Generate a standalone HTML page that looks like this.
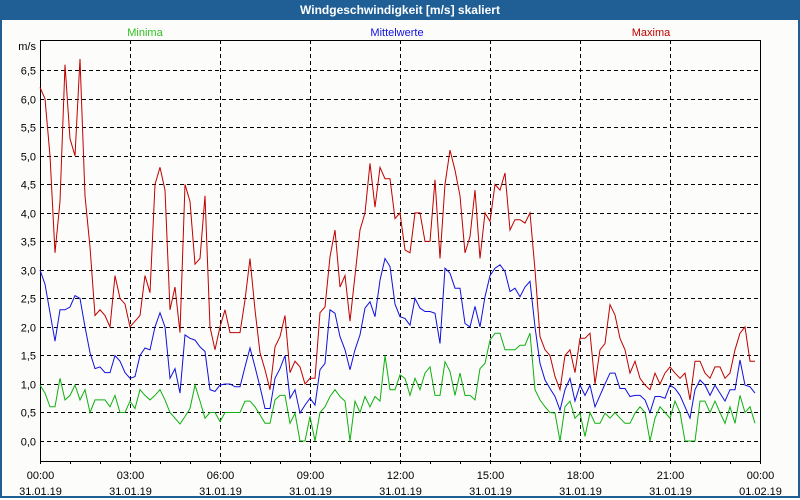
<!DOCTYPE html>
<html><head><meta charset="utf-8"><style>
body{margin:0;width:800px;height:500px;overflow:hidden;background:#fff;font-family:"Liberation Sans",sans-serif}
#win{position:absolute;left:0;top:0;width:796px;height:496px;border:2px solid #1f5f96;border-top:none;background:#fcfcfa}
#title{position:absolute;left:0;top:0;width:800px;height:20px;background:#1f5f96;color:#fff;font-size:12px;font-weight:bold;text-align:center;line-height:20px}
</style></head><body>
<div id="win"></div>
<div id="title">Windgeschwindigkeit [m/s] skaliert</div>
<svg id="chart" width="800" height="500" style="position:absolute;left:0;top:0" font-family="Liberation Sans, sans-serif" font-size="11"></svg>
<script>
const maxima=[6.2,6.0,5.0,3.3,4.2,6.6,5.3,5.0,6.7,4.3,3.4,2.2,2.3,2.2,2.0,2.9,2.5,2.4,2.0,2.1,2.2,2.9,2.6,4.5,4.8,4.4,2.3,2.7,1.9,4.5,4.2,3.1,3.2,4.3,2.0,1.6,2.0,
2.3,1.9,1.9,1.9,2.47,3.2,2.3,1.55,1.25,0.9,1.65,1.83,2.2,1.2,1.4,1.3,1.0,1.1,1.1,2.25,2.35,3.23,3.7,2.7,2.9,2.1,2.9,3.7,4.0,4.87,4.1,4.8,4.6,4.6,3.9,4.0,3.35,
3.3,4.0,4.0,3.5,3.5,4.58,3.2,4.5,5.1,4.75,4.3,3.3,3.58,4.4,3.2,4.0,3.85,4.5,4.4,4.7,3.7,3.88,3.88,3.82,4.0,3.0,1.83,1.6,1.5,1.13,0.9,1.5,1.6,1.2,1.8,1.8,
1.89,1.0,1.6,1.71,2.39,2.21,1.8,1.6,1.19,1.4,1.1,0.98,0.9,1.19,1.0,1.19,1.3,1.19,1.1,1.19,0.72,1.4,1.4,1.19,1.1,1.3,1.3,1.1,1.19,1.6,1.89,2.0,1.4,1.4];
const mittel=[3.0,2.75,2.25,1.75,2.3,2.3,2.35,2.55,2.5,2.0,1.55,1.27,1.3,1.2,1.2,1.5,1.4,1.2,1.1,1.13,1.5,1.63,1.6,2.0,2.25,2.0,1.1,1.27,0.84,1.86,1.8,1.77,1.65,1.57,0.9,0.87,0.98,
1.0,1.0,0.95,0.95,1.3,1.63,1.3,0.95,0.57,0.57,1.1,1.27,1.5,0.75,0.9,0.49,0.63,0.75,0.63,1.25,1.36,2.3,2.24,1.83,1.6,1.25,1.6,1.86,2.33,2.44,2.18,2.82,3.2,3.06,2.4,2.18,2.15,
2.03,2.5,2.33,2.27,2.27,2.24,1.71,3.03,2.94,2.68,2.68,2.06,2.0,2.36,2.0,2.53,2.9,3.03,3.09,2.97,2.62,2.68,2.53,2.7,2.8,2.0,1.36,1.07,0.92,0.78,0.54,0.9,1.1,0.7,0.98,0.8,
0.98,0.6,0.8,1.0,1.19,1.19,0.92,0.92,0.78,0.8,0.8,0.72,0.5,0.78,0.78,0.75,0.98,0.92,0.8,0.6,0.4,0.9,1.07,0.98,0.8,0.98,0.84,0.7,0.9,0.9,1.42,0.98,0.95,0.84];
const minima=[0.98,0.84,0.6,0.6,1.1,0.72,0.8,0.98,0.72,0.9,0.5,0.72,0.72,0.72,0.6,0.8,0.5,0.5,0.7,0.57,0.9,0.8,0.72,0.8,0.9,0.72,0.5,0.4,0.3,0.43,0.57,0.98,0.7,0.4,0.5,0.5,0.34,
0.5,0.5,0.5,0.5,0.7,0.7,0.6,0.46,0.31,0.31,0.72,0.8,0.8,0.31,0.49,0,0,0.43,0,0.5,0.6,0.78,0.9,0.78,0.7,0,0.7,0.5,0.78,0.6,0.78,0.7,1.5,0.9,0.9,1.16,1.1,
0.8,1.1,0.9,1.19,1.3,0.8,0.8,1.39,1.22,0.8,1.19,0.8,0.8,0.72,1.27,1.36,1.77,1.89,1.89,1.6,1.6,1.6,1.68,1.68,1.89,0.9,0.72,0.6,0.5,0.49,0,0.6,0.7,0.4,0.49,0.08,
0.5,0.31,0.31,0.49,0.4,0.5,0.4,0.31,0.31,0.49,0.6,0.5,0,0.4,0.6,0.5,0.4,0.7,0.5,0,0,0,0.7,0.7,0.5,0.7,0.5,0.31,0.6,0.31,0.8,0.5,0.6,0.31];
const yTicks=["0,0","0,5","1,0","1,5","2,0","2,5","3,0","3,5","4,0","4,5","5,0","5,5","6,0","6,5"];
const xTimes=["00:00","03:00","06:00","09:00","12:00","15:00","18:00","21:00","00:00"];
const xDates=["31.01.19","31.01.19","31.01.19","31.01.19","31.01.19","31.01.19","31.01.19","31.01.19","01.02.19"];
const X0=40,X1=760,Y0=441,Y65=70.3,TOP=40,BOT=461;
const sx=i=>X0+i*5;
const sy=v=>Y0-v*(Y0-Y65)/6.5;
const NS="http://www.w3.org/2000/svg";
const svg=document.getElementById('chart');
function mk(t,a){const e=document.createElementNS(NS,t);for(const k in a)e.setAttribute(k,a[k]);svg.appendChild(e);return e;}
yTicks.forEach((t,i)=>{const y=Math.round(sy(i*0.5))+0.5;
 const g=mk('line',{x1:X0,x2:X1,y1:y,y2:y,stroke:'#000','stroke-dasharray':'4,3'});
 
 
 const l=mk('text',{x:36,y:y+4,'text-anchor':'end',fill:'#000'});l.textContent=t;
 
 
});
xTimes.forEach((t,i)=>{const x=X0+i*90+0.5;
 if(i>0&&i<8){const g=mk('line',{x1:x,x2:x,y1:TOP,y2:BOT,stroke:'#000','stroke-dasharray':'4,3'});
 
 }
 const a=mk('text',{x:x,y:479,'text-anchor':'middle',fill:'#000'});a.textContent=t;
 
 
 const b=mk('text',{x:x,y:495,'text-anchor':'middle',fill:'#000'});b.textContent=xDates[i];
 
 
});
for(let h=0;h<=24;h++){const x=X0+h*30+0.5;const t=mk('line',{x1:x,x2:x,y1:BOT,y2:BOT+3,stroke:'#000'});
 
 }
const frame=mk('path',{d:`M${X0+0.5},${TOP+0.5}H${X1+0.5}V${BOT+0.5}H${X0+0.5}Z`,fill:'none',stroke:'#000'});


const unit=mk('text',{x:36,y:50,'text-anchor':'end',fill:'#000'});unit.textContent='m/s';


function series(arr,col,name){const p=mk('polyline',{points:arr.map((v,i)=>sx(i)+','+sy(v).toFixed(1)).join(' '),fill:'none',stroke:col,'stroke-width':1});
 
 }
series(minima,'#10b010','series-minima');
series(mittel,'#1010e0','series-mittelwerte');
series(maxima,'#c00000','series-maxima');
[["Minima",145,'#30c020','legend-minima'],["Mittelwerte",397,'#1010e0','legend-mittelwerte'],["Maxima",651,'#c00000','legend-maxima']].forEach(d=>{
 const t=mk('text',{x:d[1],y:36,'text-anchor':'middle',fill:d[2]});t.textContent=d[0];
 
 
});
</script>
</body></html>
